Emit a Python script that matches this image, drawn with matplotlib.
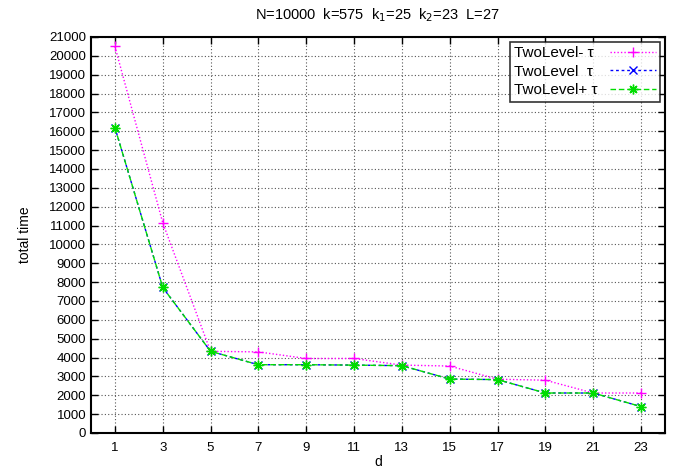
import matplotlib
matplotlib.use("Agg")
import matplotlib.pyplot as plt

d = [1, 3, 5, 7, 9, 11, 13, 15, 17, 19, 21, 23]
two_minus = [20500, 11150, 4330, 4300, 3950, 3950, 3600, 3550, 2850, 2800, 2120, 2120]
two_level = [16200, 7720, 4330, 3620, 3620, 3600, 3570, 2860, 2830, 2120, 2120, 1400]
two_plus = [16200, 7720, 4330, 3620, 3620, 3600, 3570, 2860, 2830, 2120, 2120, 1400]
yticks = list(range(0, 21001, 1000))

plt.rcParams['font.family'] = ['Liberation Sans', 'DejaVu Sans']
fig = plt.figure(figsize=(6.82, 4.73), dpi=100)
ax = fig.add_axes([0.1334, 0.0846, 0.975 - 0.1334, 0.9218 - 0.0846])

ax.plot(d, two_minus, color='#ff00ff', linestyle=(0, (1, 1.5)), linewidth=1,
        marker='+', markersize=7, markeredgewidth=1, label='TwoLevel- τ')
ax.plot(d, two_level, color='#0000ff', linestyle=(0, (2, 2)), linewidth=1,
        marker='x', markersize=6, markeredgewidth=1, label='TwoLevel  τ')
ax.plot(d, two_plus, color='#00dd00', linestyle=(0, (4, 2)), linewidth=1,
        marker=(8, 2, 0), markersize=7, markeredgewidth=1, label='TwoLevel+ τ')

ax.set_xlim(0, 24)
ax.set_ylim(0, 21000)
ax.set_xticks(d)
ax.set_yticks(yticks)
ax.tick_params(direction='in', top=True, right=True, length=5, width=1, labelsize=9.5)
ax.tick_params(axis='x', pad=6.5)
for s in ax.spines.values():
    s.set_linewidth(1.5)
ax.grid(True, color='#555555', linestyle=(0, (1, 2)), linewidth=0.8)
ax.set_xlabel('d', fontsize=10, labelpad=1)
ax.set_ylabel('total time', fontsize=10, labelpad=12)
ax.set_title('N=10000  k=575  k$_1$=25  k$_2$=23  L=27', fontsize=10.5, pad=13)

leg = ax.legend(loc='upper right', markerfirst=False, fontsize=11, frameon=True,
                fancybox=False, edgecolor='black', borderpad=0.3, handlelength=3,
                labelspacing=0.3, borderaxespad=0.3)
leg.get_frame().set_linewidth(1.2)

# left-align legend texts while keeping handles aligned on the right
fig.canvas.draw()
renderer = fig.canvas.get_renderer()
column = leg._legend_handle_box.get_children()[0]
rows = column.get_children()
maxw = max(r.get_bbox(renderer).width for r in rows)
for r in rows:
    r.width = maxw
    r.mode = 'expand'

fig.savefig('out.png', dpi=100)
